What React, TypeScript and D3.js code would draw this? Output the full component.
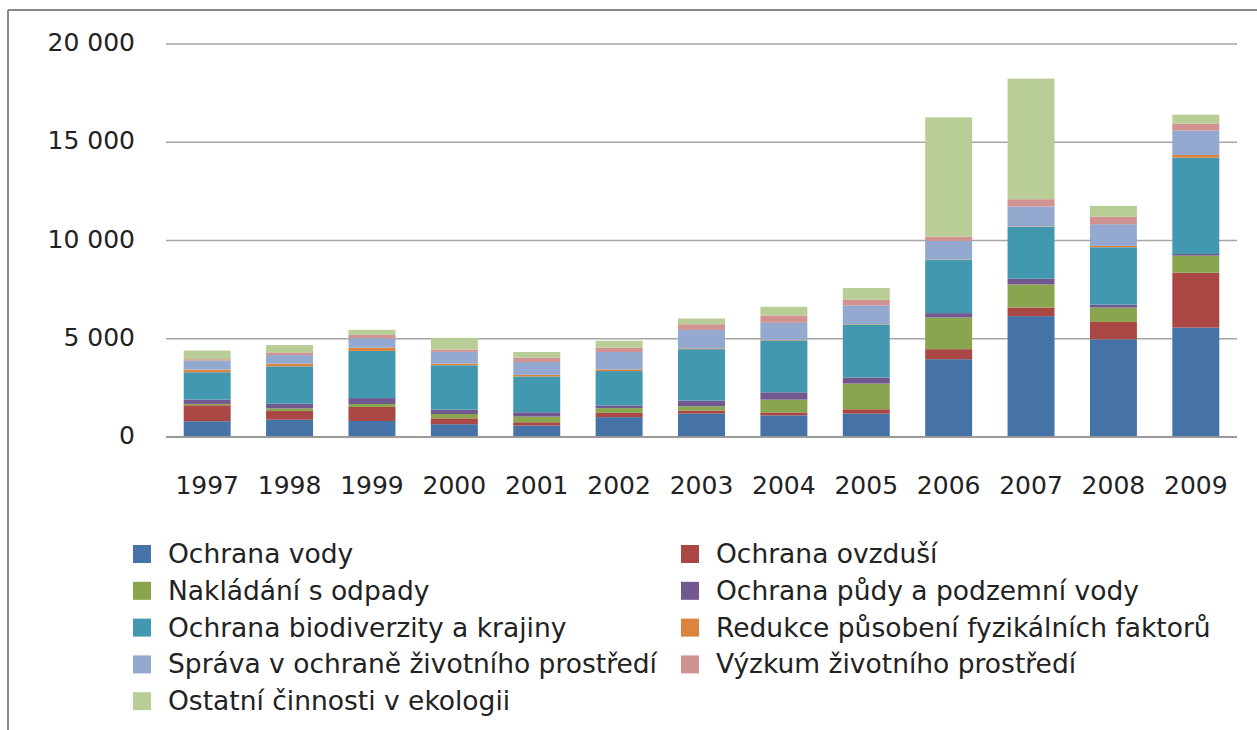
import * as d3 from "d3";

const years = ["1997", "1998", "1999", "2000", "2001", "2002", "2003", "2004", "2005", "2006", "2007", "2008", "2009"];

const seriesNames = [
  "Ochrana vody",
  "Ochrana ovzduší",
  "Nakládání s odpady",
  "Ochrana půdy a podzemní vody",
  "Ochrana biodiverzity a krajiny",
  "Redukce působení fyzikálních faktorů",
  "Správa v ochraně životního prostředí",
  "Výzkum životního prostředí",
  "Ostatní činnosti v ekologii",
];

const vody = [800, 880, 815, 650, 580, 1010, 1190, 1100, 1190, 3960, 6150, 4970, 5570];
const ovzdusi = [815, 440, 715, 300, 170, 220, 150, 150, 220, 510, 440, 885, 2790];
const odpady = [70, 135, 150, 220, 290, 240, 220, 650, 1310, 1615, 1175, 730, 870];
const puda = [220, 240, 300, 220, 220, 135, 290, 375, 305, 220, 290, 150, 85];
const biodiverzita = [1390, 1900, 2400, 2260, 1820, 1750, 2620, 2640, 2700, 2700, 2650, 2920, 4900];
const fyzikalni = [135, 135, 170, 85, 85, 85, 40, 30, 20, 20, 20, 70, 135];
const sprava = [460, 440, 475, 595, 650, 885, 940, 865, 950, 950, 1000, 1105, 1240];
const vyzkum = [70, 135, 170, 120, 220, 220, 290, 375, 290, 220, 375, 375, 355];
const ostatni = [440, 375, 260, 595, 290, 355, 290, 440, 595, 6070, 6140, 560, 460];

const yTicks = [0, 5000, 10000, 15000, 20000];

const colors = ["#4572a7", "#aa4643", "#89a54e", "#71588f", "#4198af", "#db843d", "#93a9cf", "#d19392", "#b9cd96"];

const allSeries = [vody, ovzdusi, odpady, puda, biodiverzita, fyzikalni, sprava, vyzkum, ostatni];

const WIDTH = 1257;
const HEIGHT = 730;
const FONT = "'DejaVu Sans', sans-serif";

type Row = { year: string; [key: string]: number | string };

const rows: Row[] = years.map((year, i) => {
  const row: Row = { year };
  seriesNames.forEach((name, s) => {
    row[name] = allSeries[s][i];
  });
  return row;
});

const fmt = (v: number) => d3.format(",")(v).replace(/,/g, " ");

export default function App() {
  const xScale = d3.scaleBand().domain(years).range([166, 1237]).paddingInner(0.43).paddingOuter(0.215);
  const yScale = d3.scaleLinear().domain([0, 20000]).range([437, 44]);

  const stack = d3.stack<Row>().keys(seriesNames).value((d, key) => d[key] as number);
  const layers = stack(rows);

  const legendLeftX = 133;
  const legendRightX = 681;
  const legendTop = 554;
  const rowGap = 36.8;

  return (
    <svg
      width={WIDTH}
      height={HEIGHT}
      style={{ position: "absolute", left: 0, top: 0, background: "#fff" }}
    >
      <line x1={8} y1={10} x2={WIDTH} y2={10} stroke="#8a8a8a" strokeWidth={2} />
      <line x1={8} y1={10} x2={8} y2={HEIGHT} stroke="#8a8a8a" strokeWidth={2} />

      {yTicks.map((t) => (
        <g key={t}>
          {t > 0 && (
            <line x1={166} x2={1237} y1={yScale(t)} y2={yScale(t)} stroke="#a6a6a6" strokeWidth={1.5} />
          )}
          <text
            x={135}
            y={yScale(t) + 7}
            textAnchor="end"
            fontFamily={FONT}
            fontSize={25}
            fill="#222"
          >
            {fmt(t)}
          </text>
        </g>
      ))}

      {layers.map((layer, s) => (
        <g key={layer.key} fill={colors[s]}>
          {layer.map((d, i) => (
            <rect
              key={years[i]}
              x={xScale(years[i])}
              y={yScale(d[1])}
              width={xScale.bandwidth()}
              height={yScale(d[0]) - yScale(d[1])}
            />
          ))}
        </g>
      ))}

      <line x1={166} x2={1237} y1={yScale(0)} y2={yScale(0)} stroke="#9a9a9a" strokeWidth={2} />

      {years.map((y) => (
        <text
          key={y}
          x={(xScale(y) ?? 0) + xScale.bandwidth() / 2}
          y={494}
          textAnchor="middle"
          fontFamily={FONT}
          fontSize={25}
          fill="#222"
        >
          {y}
        </text>
      ))}

      {seriesNames.map((name, s) => {
        const col = s % 2;
        const row = Math.floor(s / 2);
        const x = col === 0 ? legendLeftX : legendRightX;
        const cy = legendTop + row * rowGap;
        return (
          <g key={name}>
            <rect x={x} y={cy - 9} width={18} height={18} fill={colors[s]} />
            <text x={x + 35} y={cy + 9} fontFamily={FONT} fontSize={26.5} fill="#222">
              {name}
            </text>
          </g>
        );
      })}
    </svg>
  );
}
